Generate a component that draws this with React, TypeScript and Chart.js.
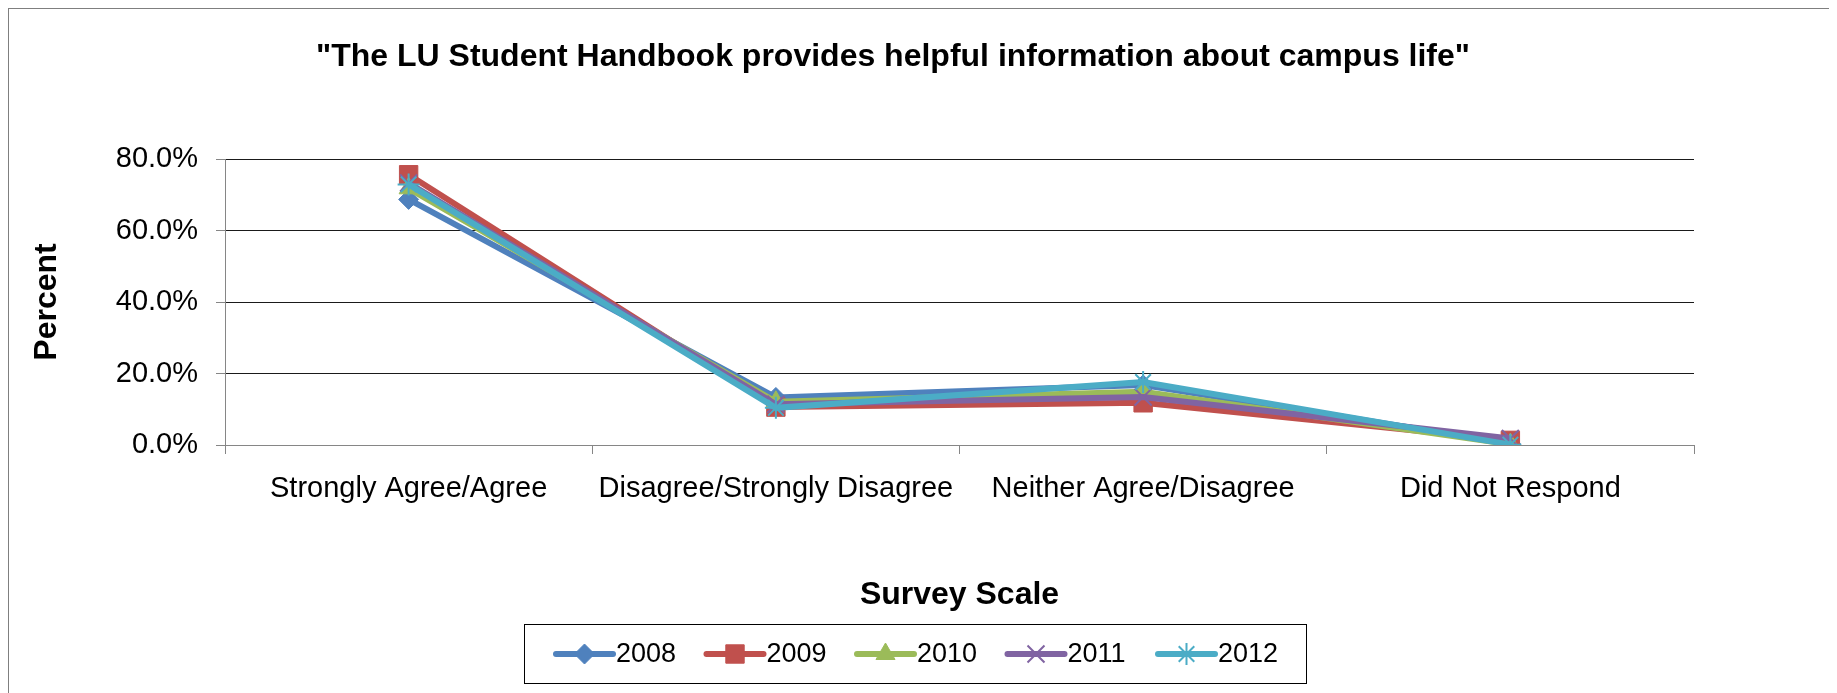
import React, { useEffect, useRef } from 'react';
import { Chart, registerables } from 'chart.js';
import { drawPoint } from 'chart.js/helpers';

Chart.register(...registerables);

const categories = ['Strongly Agree/Agree', 'Disagree/Strongly Disagree', 'Neither Agree/Disagree', 'Did Not Respond'];
const seriesNames = ['2008', '2009', '2010', '2011', '2012'];
const values2008 = [68.7, 13.3, 16.8, 0.4];
const values2009 = [75.6, 10.6, 11.8, 1.3];
const values2010 = [71.8, 12.1, 14.9, 0.2];
const values2011 = [73.3, 11.4, 13.4, 1.8];
const values2012 = [72.9, 10.4, 17.6, 0.1];
const yMin = 0;
const yMax = 80;
const yStep = 20;
const titleText = '"The LU Student Handbook provides helpful information about campus life"';
const xTitleText = 'Survey Scale';
const yTitleText = 'Percent';

const seriesValues = [values2008, values2009, values2010, values2011, values2012];
const colors = ['#4F81BD', '#C0504D', '#9BBB59', '#8064A2', '#4BACC6'];
const pointStyles = ['rectRot', 'rect', 'triangle', 'crossRot', 'star'];
const pointRadii = [10, 13, 11, 12, 11];
const pointBorders = [1, 1, 1, 2, 2];

const FONT = "'Liberation Sans', Arial, sans-serif";
const W = 1821;
const H = 684;

const decorPlugin = {
  id: 'decor',
  afterDraw(chart: any) {
    const ctx = chart.ctx as CanvasRenderingContext2D;
    ctx.save();
    // title
    ctx.fillStyle = '#000';
    ctx.font = `bold 32px ${FONT}`;
    ctx.textAlign = 'center';
    ctx.textBaseline = 'middle';
    ctx.fillText(titleText, 884, 48);

    // legend box
    ctx.strokeStyle = '#000';
    ctx.lineWidth = 1;
    ctx.strokeRect(515.5, 615.5, 782, 59);
    const cy = 645;
    chart.data.datasets.forEach((ds: any, i: number) => {
      const x0 = 547 + i * 150.5;
      ctx.strokeStyle = ds.borderColor;
      ctx.lineWidth = 6;
      ctx.lineCap = 'round';
      ctx.beginPath();
      ctx.moveTo(x0, cy);
      ctx.lineTo(x0 + 57, cy);
      ctx.stroke();
      ctx.lineCap = 'butt';
      ctx.fillStyle = ds.pointBackgroundColor;
      ctx.strokeStyle = ds.pointBorderColor;
      ctx.lineWidth = ds.pointBorderWidth;
      drawPoint(ctx, {
        pointStyle: ds.pointStyle,
        radius: ds.pointRadius,
        rotation: 0,
        borderWidth: ds.pointBorderWidth,
      } as any, x0 + 28.5, cy);
      ctx.fillStyle = '#000';
      ctx.font = `27px ${FONT}`;
      ctx.textAlign = 'left';
      ctx.textBaseline = 'middle';
      ctx.fillText(ds.label, x0 + 60, cy + 1);
    });
    ctx.restore();
  },
};

export default function App() {
  const canvasRef = useRef<HTMLCanvasElement | null>(null);

  useEffect(() => {
    document.documentElement.style.overflow = 'hidden';
    const canvas = canvasRef.current;
    if (!canvas) return;
    Chart.defaults.font.family = FONT;
    Chart.defaults.color = '#000';

    const datasets = seriesNames.map((name, i) => ({
      label: name,
      data: seriesValues[i],
      borderColor: colors[i],
      backgroundColor: colors[i],
      borderWidth: 6,
      tension: 0,
      pointStyle: pointStyles[i],
      pointRadius: pointRadii[i],
      pointHoverRadius: pointRadii[i],
      pointBackgroundColor: colors[i],
      pointBorderColor: colors[i],
      pointBorderWidth: pointBorders[i],
      order: seriesNames.length - i,
      fill: false,
    }));

    const chart = new Chart(canvas, {
      type: 'line',
      data: { labels: categories, datasets },
      plugins: [decorPlugin],
      options: {
        animation: false,
        responsive: false,
        devicePixelRatio: 1,
        layout: { padding: { top: 150, right: 136, left: 0, bottom: 60 } },
        plugins: {
          legend: { display: false },
          title: { display: false },
          tooltip: { enabled: false },
        },
        scales: {
          x: {
            type: 'category',
            offset: true,
            afterFit: (s: any) => { s.height = 188; },
            grid: {
              display: true,
              offset: true,
              drawOnChartArea: false,
              drawTicks: true,
              tickLength: 9,
              color: '#868686',
              tickColor: '#868686',
            },
            border: { display: true, color: '#868686', width: 1 },
            ticks: {
              font: { size: 29, family: FONT },
              color: '#000',
              padding: 18,
              maxRotation: 0,
              minRotation: 0,
              autoSkip: false,
            },
            title: {
              display: true,
              text: xTitleText,
              font: { size: 32, weight: 'bold', family: FONT },
              color: '#000',
              padding: { top: 0, bottom: 19 },
            },
          },
          y: {
            min: yMin,
            max: yMax,
            afterFit: (s: any) => { s.width = 216; },
            grid: {
              color: (c: any) => (c.tick && c.tick.value === 0 ? '#868686' : '#1a1a1a'),
              tickColor: '#868686',
              tickLength: 9,
              lineWidth: 1,
            },
            border: { display: true, color: '#868686', width: 1 },
            ticks: {
              stepSize: yStep,
              font: { size: 29, family: FONT },
              color: '#000',
              padding: 18,
              callback: (v: any) => Number(v).toFixed(1) + '%',
            },
            title: {
              display: true,
              text: yTitleText,
              font: { size: 32, weight: 'bold', family: FONT },
              color: '#000',
              padding: { top: 18.8, bottom: 0 },
            },
          },
        },
      } as any,
    });
    return () => chart.destroy();
  }, []);

  return (
    <div
      style={{
        width: W,
        height: H,
        borderTop: '1px solid #7f7f7f',
        borderLeft: '1px solid #7f7f7f',
        borderRight: '1px solid #7f7f7f',
        background: '#fff',
      }}
    >
      <canvas ref={canvasRef} width={W} height={H} style={{ display: 'block', width: W, height: H }} />
    </div>
  );
}
